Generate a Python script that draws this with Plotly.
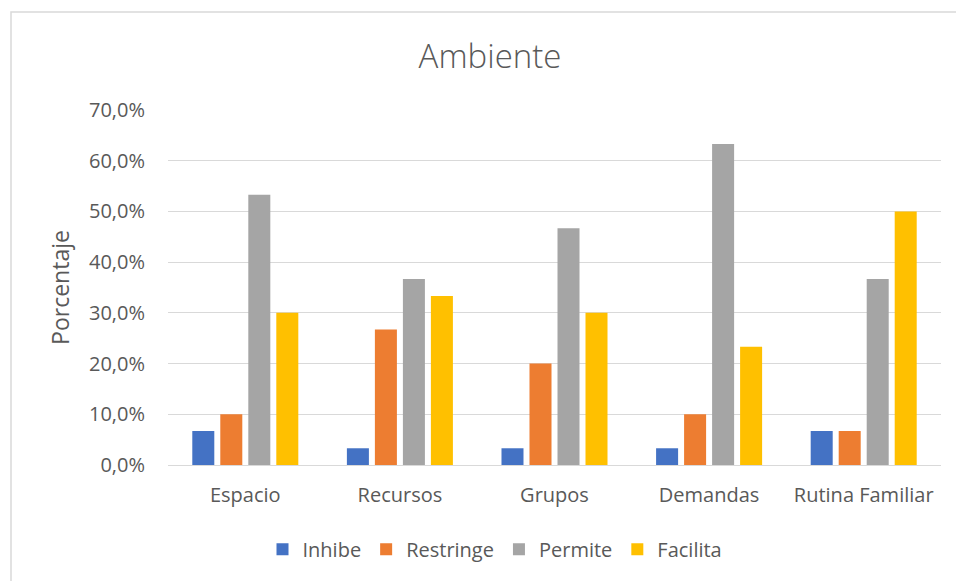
import plotly.graph_objects as go

categories = ["Espacio", "Recursos", "Grupos", "Demandas", "Rutina Familiar"]
inhibe = [0.067, 0.033, 0.033, 0.033, 0.067]
restringe = [0.100, 0.267, 0.200, 0.100, 0.067]
permite = [0.533, 0.367, 0.467, 0.633, 0.367]
facilita = [0.300, 0.333, 0.300, 0.233, 0.500]
series_names = ["Inhibe", "Restringe", "Permite", "Facilita"]
colors = ["#4472C4", "#ED7D31", "#A5A5A5", "#FFC000"]
y_ticks = [0, 0.1, 0.2, 0.3, 0.4, 0.5, 0.6, 0.7]

FONT = "Open Sans, sans-serif"
TXT = "#595959"

fig = go.Figure()
for name, vals, col in zip(series_names, [inhibe, restringe, permite, facilita], colors):
    fig.add_trace(go.Bar(x=categories, y=vals, name=name, marker=dict(color=col, line=dict(width=0))))

fig.update_layout(
    width=956, height=581,
    margin=dict(l=168, r=15, t=110, b=116),
    paper_bgcolor="white", plot_bgcolor="white",
    separators=",.",
    barmode="group", bargap=0.2755, bargroupgap=0.214,
    font=dict(family=FONT, color=TXT, size=20),
    title=dict(text="Ambiente", x=490/956, xanchor="center", y=1-56/581, yanchor="middle",
               font=dict(size=33, color=TXT, family=FONT, weight=300)),
    xaxis=dict(showgrid=False, showline=False, ticks="", ticklabelstandoff=16,
               tickfont=dict(size=20, color=TXT)),
    yaxis=dict(range=[0, 0.7], tickvals=y_ticks, tickformat=".1%", showgrid=True, gridcolor="#D9D9D9",
               gridwidth=1, zeroline=True, zerolinecolor="#D9D9D9", zerolinewidth=1,
               showline=False, ticks="", ticklabelstandoff=22,
               title=dict(text="Porcentaje", font=dict(size=23, color=TXT), standoff=12),
               tickfont=dict(size=20, color=TXT)),
    legend=dict(orientation="h", x=(495-168)/773, xanchor="center", y=-0.237, yanchor="middle",
                font=dict(size=20, color=TXT), itemwidth=30, traceorder="normal"),
    shapes=[dict(type="rect", xref="paper", yref="paper",
                 x0=(11-168)/773, x1=(1000-168)/773, y0=(465-1000)/355, y1=(465-12)/355,
                 line=dict(color="#D9D9D9", width=1.5), fillcolor="rgba(0,0,0,0)", layer="below")],
)

fig.write_html("out.html")
